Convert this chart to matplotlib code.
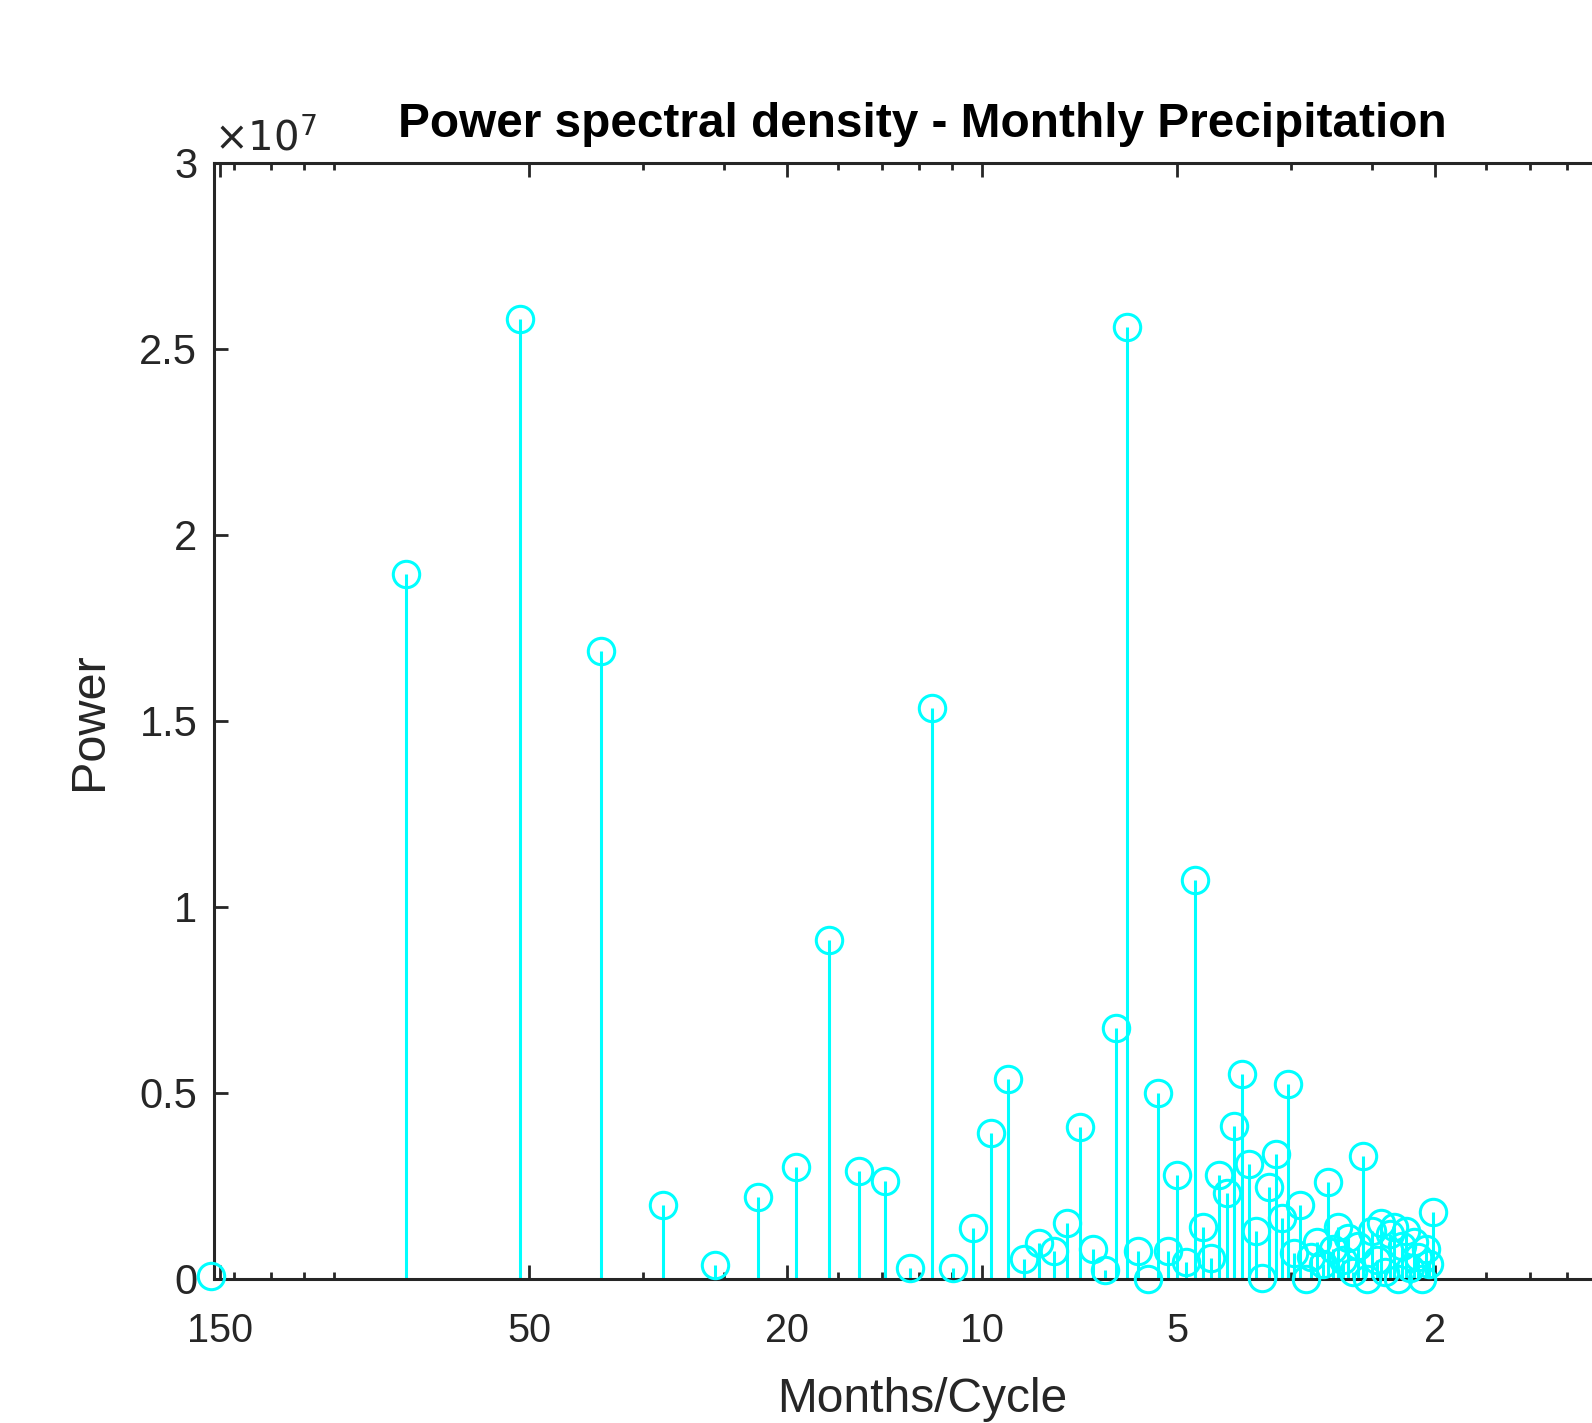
import numpy as np
import matplotlib.pyplot as plt
from matplotlib.ticker import LogLocator, NullFormatter

plt.rcParams['font.family'] = ['Liberation Sans', 'DejaVu Sans']

# periodogram of monthly precipitation, 155 months, harmonics 1..77
n_months = 155
harmonic = np.arange(1, 78)
# power in units of 1e7
power = [
    0.008, 1.895, 2.58, 1.687, 0.20, 0.038, 0.22, 0.30, 0.91, 0.29,
    0.264, 0.03, 1.534, 0.03, 0.138, 0.392, 0.537, 0.053, 0.098, 0.075,
    0.151, 0.409, 0.08, 0.023, 0.674, 2.558, 0.075, 0.0, 0.50, 0.075,
    0.28, 0.045, 1.073, 0.14, 0.057, 0.28, 0.232, 0.41, 0.55, 0.31,
    0.13, 0.004, 0.246, 0.335, 0.165, 0.525, 0.07, 0.20, 0.0, 0.06,
    0.10, 0.04, 0.26, 0.08, 0.14, 0.05, 0.11, 0.02, 0.09, 0.33,
    0.0, 0.13, 0.05, 0.15, 0.02, 0.12, 0.14, 0.0, 0.09, 0.13,
    0.03, 0.10, 0.06, 0.0, 0.08, 0.04, 0.18,
]
period_ticks = [150, 50, 20, 10, 5, 2]
y_ticks = [0, 0.5, 1, 1.5, 2, 2.5, 3]

freq = harmonic / n_months
dark = '#262626'
cyan = '#00FFFF'

fig = plt.figure(figsize=(15.92, 14.23), dpi=100)
# axes runs past the right edge, like the cropped original
ax = fig.add_axes([0.1344, 0.1012, 0.8894, 0.7843])

ax.vlines(freq, 0, power, color=cyan, lw=2.2, zorder=2)
ax.plot(freq, power, 'o', ms=19, mfc='none', mec=cyan, mew=2.2,
        clip_on=False, zorder=3)

ax.set_xscale('log')
ax.set_xlim(0.00653, 1.0)
ax.set_ylim(0, 3)

ax.set_xticks([1 / p for p in period_ticks])
ax.set_xticklabels([str(p) for p in period_ticks])
ax.xaxis.set_minor_locator(LogLocator(base=10, subs=np.arange(1, 10), numticks=20))
ax.xaxis.set_minor_formatter(NullFormatter())
ax.set_yticks(y_ticks)
ax.set_yticklabels(['%g' % v for v in y_ticks])

ax.tick_params(which='both', direction='in', top=True, right=True, colors=dark,
               width=2)
ax.tick_params(which='major', length=10)
ax.tick_params(which='minor', length=5)
ax.tick_params(axis='x', pad=24, labelsize=28.5)
ax.tick_params(axis='y', pad=12, labelsize=30)
for s in ax.spines.values():
    s.set_color(dark)
    s.set_linewidth(2.2)

ax.set_xlabel('Months/Cycle', fontsize=34.5, color=dark, labelpad=19)
ax.set_ylabel('Power', fontsize=35, color=dark, labelpad=20)
ax.set_title('Power spectral density - Monthly Precipitation', fontsize=34.4,
             fontweight='bold', pad=19)
ax.text(0.0, 1.004, r'$\times 10^{7}$', transform=ax.transAxes, fontsize=29,
        color=dark, ha='left', va='bottom')

fig.savefig('out.png', dpi=100)
